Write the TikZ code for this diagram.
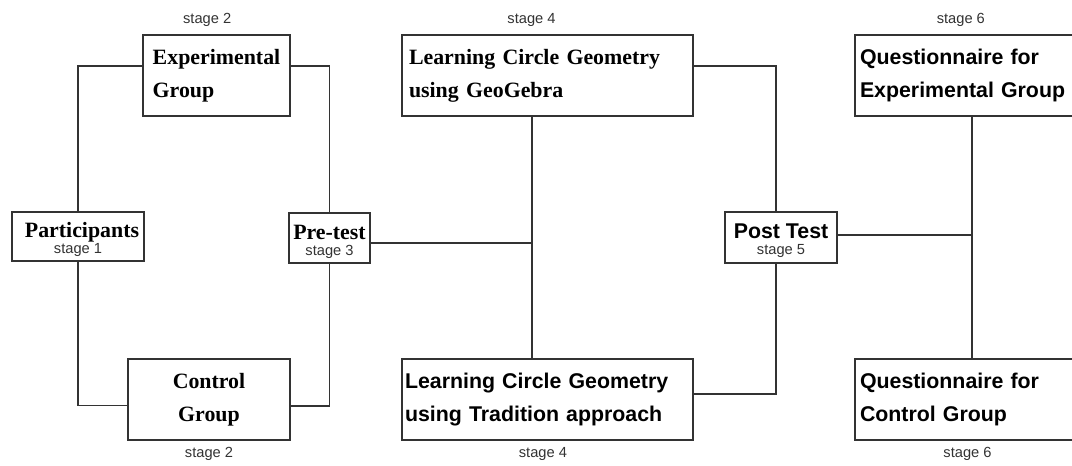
\documentclass[tikz,border=0pt]{standalone}
\usepackage{fontspec}
\setmainfont{Liberation Serif}
\setsansfont{Liberation Sans}
\usepackage{tikz}
\usetikzlibrary{positioning}
\definecolor{linegray}{HTML}{333333}
\newcommand{\stg}[1]{{\normalfont\fontsize{11}{13}\selectfont\sffamily\color{linegray}#1}}
\tikzset{
  box/.style = {draw=linegray, line width=1.1pt, inner sep=0pt, fill=white},
  box_rm/.style = {box, font=\fontsize{16.4}{24.75}\selectfont\bfseries},% times-like text
  box_sf/.style = {box, font=\fontsize{16}{24.75}\selectfont\sffamily\bfseries},% arial-like text
  big/.style = {minimum height=60.75pt},
  stage_lbl/.style = {inner sep=0pt, text=linegray,
    font=\fontsize{11}{13}\selectfont\sffamily},
  link/.style = {draw=linegray, line width=1.1pt}
}

\begin{document}
\begin{tikzpicture}[x=0.75pt, y=-0.75pt]
\useasboundingbox (0,0) rectangle (1072,465);
% stage 1 to 3
\node [box_rm, minimum width=99pt, minimum height=36.75pt, align=center](part) at (78,236.5)
  {\rule{0pt}{16pt}\hspace*{6pt}Participants\\[-12.75pt]\stg{stage 1}};
\node [box_rm, big, minimum width=110.25pt, align=left](exp) at (216.5,75.5)
  {Experimental\\Group};
\node [box_rm, big, minimum width=121.5pt, align=center](ctrl) at (209,399.5)
  {Control\\Group};
\node [box_rm, minimum width=60.75pt, minimum height=37.5pt, align=center](pre) at (329.5,238)
  {\rule{0pt}{16pt}Pre-test\\[-12.75pt]\stg{stage 3}};
% stage 4 to 6
\node [box_rm, big, text width=207.75pt, inner xsep=5.25pt, align=left](geo) at (547.5,75.5)
  {Learning Circle Geometry\\using GeoGebra};
\node [box_sf, big, text width=213.75pt, inner xsep=2.25pt, align=left](trad) at (547.5,399.5)
  {Learning Circle Geometry\\using Tradition approach};
\node [box_sf, minimum width=84pt, minimum height=38.25pt, align=center](post) at (781,237.5)
  {\rule{0pt}{16pt}Post Test\\[-12.75pt]\stg{stage 5}};
\node [box_sf, big, text width=161.25pt, inner xsep=3.75pt, align=left](qe) at (967.5,75.5)
  {Questionnaire for\\Experimental Group};
\node [box_sf, big, text width=161.25pt, inner xsep=3.75pt, align=left](qc) at (967.5,399.5)
  {Questionnaire for\\Control Group};

\node [stage_lbl, above=5.5pt of exp, xshift=-7pt](exp_s) {stage 2};
\node [stage_lbl, below=5pt of ctrl](ctrl_s) {stage 2};
\node [stage_lbl, above=5.5pt of geo, xshift=-12pt](geo_s) {stage 4};
\node [stage_lbl, below=5pt of trad, xshift=-3.4pt](trad_s) {stage 4};
\node [stage_lbl, above=5.5pt of qe, xshift=-5pt](qe_s) {stage 6};
\node [stage_lbl, below=5pt of qc](qc_s) {stage 6};

\coordinate (j1) at (532,243);
\coordinate (j2) at (776,237);
\coordinate (j3) at (972,235);

\draw [link] ([yshift=7pt]exp.west) -| (part.north);
\draw [link] (part.south) |- ([yshift=-4.5pt]ctrl.west);
\draw [link] ([yshift=7pt]exp.east) -| (pre.north);
\draw [link] (pre.south) |- ([yshift=-5pt]ctrl.east);
\draw [link] (pre.east |- j1) -- (j1);
\draw [link] (geo.south -| j1) -- (trad.north -| j1);
\draw [link] ([yshift=7pt]geo.east) -| (post.north -| j2);
\draw [link] (post.south -| j2) |- ([yshift=4pt]trad.east);
\draw [link] (post.east |- j3) -- (j3);
\draw [link] (qe.south -| j3) -- (qc.north -| j3);
\end{tikzpicture}
\end{document}
